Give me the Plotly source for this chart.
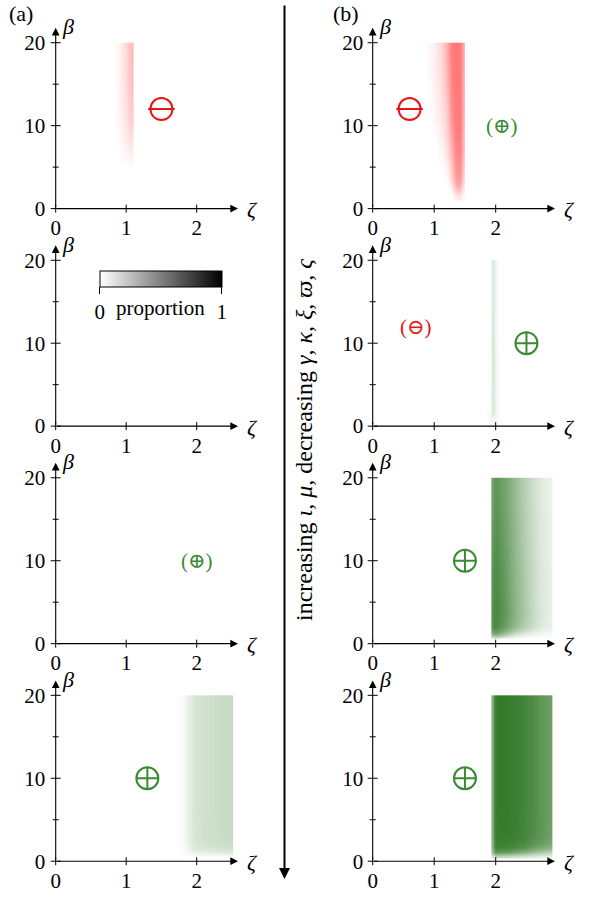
import plotly.graph_objects as go

W, H = 593, 897
SERIF = "Liberation Serif, DejaVu Serif, serif"

# ---------------------------------------------------------------- data
# proportion maps over (zeta, beta); x/y lists are cell edges, z rows go bottom -> top

# (a) top: red band
a1_zeta = [0.85, 0.9, 0.95, 1.0, 1.05, 1.1]
a1_beta = [4, 6, 9, 13, 17, 20]
a1_z = [
    [0.00, 0.00, 0.00, 0.00, 0.00],
    [0.01, 0.03, 0.05, 0.08, 0.10],
    [0.02, 0.06, 0.10, 0.16, 0.20],
    [0.03, 0.08, 0.12, 0.20, 0.25],
    [0.03, 0.08, 0.13, 0.21, 0.27],
]

# (b) top: red band
b1_zeta = [0.85, 0.9, 0.95, 1.0, 1.05, 1.1, 1.15, 1.2, 1.25, 1.3, 1.35, 1.4, 1.45, 1.5]
b1_beta = [1, 2, 3.5, 6, 9, 13, 17, 20]
b1_z = [
    [0, 0, 0, 0, 0, 0, 0, 0, 0, 0.05, 0.10, 0.08, 0.02],
    [0, 0, 0, 0, 0, 0, 0, 0.02, 0.10, 0.25, 0.35, 0.30, 0.10],
    [0, 0, 0, 0, 0, 0, 0.03, 0.10, 0.22, 0.38, 0.45, 0.42, 0.20],
    [0, 0, 0, 0, 0.02, 0.05, 0.10, 0.20, 0.32, 0.45, 0.50, 0.47, 0.25],
    [0, 0, 0.02, 0.04, 0.07, 0.10, 0.16, 0.28, 0.42, 0.50, 0.52, 0.50, 0.28],
    [0, 0.02, 0.04, 0.07, 0.10, 0.14, 0.22, 0.35, 0.48, 0.52, 0.53, 0.50, 0.30],
    [0.01, 0.03, 0.05, 0.08, 0.12, 0.16, 0.25, 0.40, 0.50, 0.53, 0.53, 0.50, 0.30],
]

# (b) second row: thin green strip
b2_zeta = [1.85, 1.9, 1.93, 1.97, 2.0, 2.05, 2.1]
b2_beta = [0.5, 1.2, 2, 5, 12, 20]
b2_z = [
    [0.02, 0.04, 0.06, 0.05, 0.03, 0.01],
    [0.02, 0.06, 0.18, 0.12, 0.05, 0.01],
    [0.00, 0.02, 0.20, 0.12, 0.04, 0.00],
    [0.00, 0.01, 0.22, 0.12, 0.04, 0.00],
    [0.00, 0.01, 0.20, 0.10, 0.03, 0.00],
]

# (b) third row: green block fading to the right
b3_zeta = [1.93, 1.97, 2.05, 2.15, 2.25, 2.35, 2.45, 2.55, 2.65, 2.75, 2.85, 2.92]
b3_beta = [0.6, 1.0, 1.6, 2.5, 5, 10, 15, 20]
b3_z = [
    [0.20, 0.25, 0.15, 0.08, 0.05, 0.03, 0.02, 0.01, 0.01, 0.00, 0.00],
    [0.60, 0.70, 0.55, 0.40, 0.28, 0.20, 0.14, 0.10, 0.07, 0.05, 0.04],
    [0.80, 0.88, 0.78, 0.65, 0.52, 0.42, 0.33, 0.25, 0.18, 0.13, 0.10],
    [0.82, 0.90, 0.82, 0.70, 0.58, 0.48, 0.38, 0.29, 0.21, 0.15, 0.11],
    [0.80, 0.88, 0.80, 0.68, 0.57, 0.47, 0.37, 0.28, 0.20, 0.15, 0.11],
    [0.75, 0.84, 0.76, 0.65, 0.54, 0.44, 0.35, 0.27, 0.19, 0.14, 0.10],
    [0.70, 0.80, 0.72, 0.62, 0.52, 0.42, 0.33, 0.25, 0.18, 0.13, 0.10],
]

# (a) bottom: pale green block
a4_zeta = [1.75, 1.8, 1.85, 1.9, 1.95, 2.05, 2.15, 2.25, 2.35, 2.45, 2.52]
a4_beta = [0.6, 1.0, 1.6, 3, 10, 20]
a4_z = [
    [0.00, 0.01, 0.02, 0.03, 0.04, 0.05, 0.05, 0.06, 0.06, 0.06],
    [0.01, 0.03, 0.07, 0.10, 0.13, 0.15, 0.16, 0.17, 0.18, 0.18],
    [0.02, 0.05, 0.11, 0.16, 0.20, 0.22, 0.23, 0.25, 0.26, 0.27],
    [0.02, 0.06, 0.12, 0.17, 0.21, 0.23, 0.24, 0.26, 0.28, 0.28],
    [0.02, 0.06, 0.12, 0.17, 0.21, 0.23, 0.24, 0.26, 0.28, 0.28],
]

# (b) bottom: dense green block
b4_zeta = [1.93, 1.97, 2.02, 2.1, 2.2, 2.3, 2.4, 2.5, 2.6, 2.7, 2.8, 2.92]
b4_beta = [0.4, 0.8, 1.3, 2, 4, 10, 20]
b4_z = [
    [0.15, 0.30, 0.30, 0.28, 0.25, 0.22, 0.20, 0.18, 0.15, 0.12, 0.10],
    [0.45, 0.75, 0.75, 0.72, 0.68, 0.62, 0.56, 0.50, 0.44, 0.38, 0.32],
    [0.55, 0.92, 0.93, 0.92, 0.90, 0.86, 0.82, 0.76, 0.70, 0.64, 0.58],
    [0.58, 0.97, 0.98, 0.98, 0.97, 0.95, 0.92, 0.88, 0.83, 0.78, 0.72],
    [0.58, 0.98, 1.00, 1.00, 0.98, 0.96, 0.93, 0.89, 0.84, 0.79, 0.73],
    [0.58, 0.98, 1.00, 1.00, 0.98, 0.96, 0.93, 0.89, 0.84, 0.79, 0.73],
]

x_ticks = [0, 1, 2]
y_ticks = [0, 10, 20]
y_minor = [5, 15]

# ---------------------------------------------------------------- styling
RED = "rgb(235,20,20)"
GREEN = "rgb(58,138,50)"
RED_SCALE = [[0, "rgba(255,0,0,0)"], [1, "rgba(255,0,0,1)"]]
GREEN_SCALE = [[0, "rgba(52,122,42,0)"], [1, "rgba(52,122,42,1)"]]
GRAY_SCALE = [[0, "white"], [1, "black"]]
FS = 21

# pixel geometry of the two columns and four rows
COLS = [dict(x0=55.7, ppu=70.5, tip=2.586), dict(x0=372.7, ppu=61.5, tip=2.964)]
ROW_Y0 = [210, 429, 648, 867]
PPU_Y = 8.35
Y_TIP = 21.8
X_PAD = (-0.12, 0.06)
Y_PAD = (-0.8, 0.5)

fig = go.Figure()
layout = dict(
    width=W, height=H, margin=dict(l=0, r=0, t=0, b=0),
    paper_bgcolor="white", plot_bgcolor="rgba(0,0,0,0)",
    showlegend=False, font=dict(family=SERIF, size=FS, color="black"),
)
annotations, shapes = [], []

panels = {}
for r in range(4):
    for c in range(2):
        k = r * 2 + c + 1
        col = COLS[c]
        xr = [X_PAD[0], col["tip"] + X_PAD[1]]
        yr = [Y_PAD[0], Y_TIP + Y_PAD[1]]
        y0 = ROW_Y0[r]
        xd = [(col["x0"] + xr[0] * col["ppu"]) / W, (col["x0"] + xr[1] * col["ppu"]) / W]
        yd = [1 - (y0 - yr[0] * PPU_Y) / H, 1 - (y0 - yr[1] * PPU_Y) / H]
        sfx = "" if k == 1 else str(k)
        xa, ya = "x" + sfx, "y" + sfx
        layout["xaxis" + sfx] = dict(
            domain=xd, range=xr, anchor=ya, showgrid=False, zeroline=False,
            showline=False, ticks="", tickvals=x_ticks, ticktext=[str(v) for v in x_ticks],
            tickfont=dict(family=SERIF, size=FS, color="black"), ticklabelstandoff=-2,
            fixedrange=True,
        )
        layout["yaxis" + sfx] = dict(
            domain=yd, range=yr, anchor=xa, showgrid=False, zeroline=False,
            showline=False, ticks="", tickvals=y_ticks, ticktext=[str(v) for v in y_ticks],
            tickfont=dict(family=SERIF, size=FS, color="black"), ticklabelstandoff=1,
            fixedrange=True,
        )
        panels[k] = (xa, ya, col["tip"])

        # axis lines with arrow heads
        annotations.append(dict(x=col["tip"], y=0, ax=0, ay=0, xref=xa, yref=ya,
                                axref=xa, ayref=ya, text="", showarrow=True,
                                arrowhead=2, arrowsize=1.4, arrowwidth=1.1,
                                arrowcolor="black", standoff=0, startstandoff=0))
        annotations.append(dict(x=0, y=Y_TIP, ax=0, ay=0, xref=xa, yref=ya,
                                axref=xa, ayref=ya, text="", showarrow=True,
                                arrowhead=2, arrowsize=1.4, arrowwidth=1.1,
                                arrowcolor="black", standoff=0, startstandoff=0))
        # axis names
        annotations.append(dict(x=0, y=Y_TIP, xref=xa, yref=ya, text="<i>β</i>",
                                showarrow=False, xanchor="left", yanchor="middle",
                                xshift=4, yshift=1, font=dict(family=SERIF, size=22)))
        annotations.append(dict(x=col["tip"], y=0, xref=xa, yref=ya, text="<i>ζ</i>",
                                showarrow=False, xanchor="left", yanchor="middle",
                                xshift=7, yshift=-1, font=dict(family=SERIF, size=22)))
        # tick marks crossing the axes
        for v in x_ticks:
            shapes.append(dict(type="line", xref=xa, yref=ya, x0=v, x1=v,
                               ysizemode="pixel", yanchor=0, y0=-4, y1=4,
                               line=dict(color="black", width=1)))
        for v in y_ticks:
            shapes.append(dict(type="line", xref=xa, yref=ya, y0=v, y1=v,
                               xsizemode="pixel", xanchor=0, x0=-5, x1=5,
                               line=dict(color="black", width=1)))
        for v in y_minor:
            shapes.append(dict(type="line", xref=xa, yref=ya, y0=v, y1=v,
                               xsizemode="pixel", xanchor=0, x0=-3, x1=3,
                               line=dict(color="black", width=1)))


def add_map(k, zeta, beta, z, scale):
    xa, ya, _ = panels[k]
    fig.add_trace(go.Heatmap(
        x=zeta, y=beta, z=z, xaxis=xa, yaxis=ya, colorscale=scale,
        zmin=0, zmax=1, zsmooth="best", showscale=False, hoverinfo="skip",
    ))


add_map(1, a1_zeta, a1_beta, a1_z, RED_SCALE)
add_map(2, b1_zeta, b1_beta, b1_z, RED_SCALE)
add_map(4, b2_zeta, b2_beta, b2_z, GREEN_SCALE)
add_map(6, b3_zeta, b3_beta, b3_z, GREEN_SCALE)
add_map(7, a4_zeta, a4_beta, a4_z, GREEN_SCALE)
add_map(8, b4_zeta, b4_beta, b4_z, GREEN_SCALE)


# large region symbols: circled minus (red) and circled plus (green)
def big_minus(k, zx, by):
    xa, ya, _ = panels[k]
    for sym, sz in (("circle-open", 22), ("line-ew-open", 19)):
        fig.add_trace(go.Scatter(
            x=[zx], y=[by], xaxis=xa, yaxis=ya, mode="markers", hoverinfo="skip",
            marker=dict(symbol=sym, size=sz, color=RED, line=dict(color=RED, width=2)),
        ))


def big_plus(k, zx, by):
    xa, ya, _ = panels[k]
    fig.add_trace(go.Scatter(
        x=[zx], y=[by], xaxis=xa, yaxis=ya, mode="markers", hoverinfo="skip",
        marker=dict(symbol="circle-cross-open", size=22, color=GREEN,
                    line=dict(color=GREEN, width=2)),
    ))


def small_label(k, zx, by, text, color):
    xa, ya, _ = panels[k]
    annotations.append(dict(x=zx, y=by, xref=xa, yref=ya, text=text, showarrow=False,
                            xanchor="center", yanchor="middle",
                            font=dict(family=SERIF, size=FS, color=color)))


big_minus(1, 1.5, 12)
big_minus(2, 0.6, 12)
small_label(2, 2.1, 10, "(⊕)", GREEN)
small_label(4, 0.7, 12, "(⊖)", RED)
big_plus(4, 2.5, 10)
small_label(5, 2.0, 10, "(⊕)", GREEN)
big_plus(6, 1.5, 10)
big_plus(7, 1.3, 10)
big_plus(8, 1.5, 10)

# proportion colour key
fig.add_trace(go.Scatter(
    x=[None], y=[None], xaxis="x3", yaxis="y3", mode="markers", hoverinfo="skip",
    marker=dict(color=[0], cmin=0, cmax=1, colorscale=GRAY_SCALE, showscale=True,
                colorbar=dict(
                    orientation="h", x=160.8 / W, xanchor="center",
                    y=1 - 272.7 / H, yanchor="top", xpad=0, ypad=0,
                    len=121.7, lenmode="pixels", thickness=16, thicknessmode="pixels",
                    outlinecolor="black", outlinewidth=1,
                    tickvals=[0, 1], ticktext=["0", "1"], ticks="outside", ticklen=7,
                    tickcolor="black", tickfont=dict(family=SERIF, size=FS, color="black"),
                )),
))
annotations.append(dict(x=160.8 / W, y=1 - 310 / H, xref="paper", yref="paper",
                        text="proportion", showarrow=False, xanchor="center",
                        yanchor="middle", font=dict(family=SERIF, size=FS)))

# panel tags
annotations.append(dict(x=21 / W, y=1 - 14 / H, xref="paper", yref="paper", text="(a)",
                        showarrow=False, xanchor="center", yanchor="middle",
                        font=dict(family=SERIF, size=22)))
annotations.append(dict(x=346 / W, y=1 - 14 / H, xref="paper", yref="paper", text="(b)",
                        showarrow=False, xanchor="center", yanchor="middle",
                        font=dict(family=SERIF, size=22)))

# central arrow and its caption
annotations.append(dict(x=284.5 / W, y=1 - 885 / H, xref="paper", yref="paper",
                        ax=0, ay=-875, axref="pixel", ayref="pixel", text="",
                        showarrow=True, arrowhead=2, arrowsize=1.1, arrowwidth=2,
                        arrowcolor="black", standoff=0))
annotations.append(dict(
    x=304 / W, y=1 - 443 / H, xref="paper", yref="paper", textangle=-90,
    xanchor="center", yanchor="middle",
    text="increasing <i>ι</i>, <i>μ</i>, decreasing <i>γ</i>, <i>κ</i>, <i>ξ</i>, "
         "<i>ϖ</i>, <i>ς</i>",
    showarrow=False, font=dict(family=SERIF, size=24),
))

layout["annotations"] = annotations
layout["shapes"] = shapes
fig.update_layout(**layout)
fig.write_html("out.html")
